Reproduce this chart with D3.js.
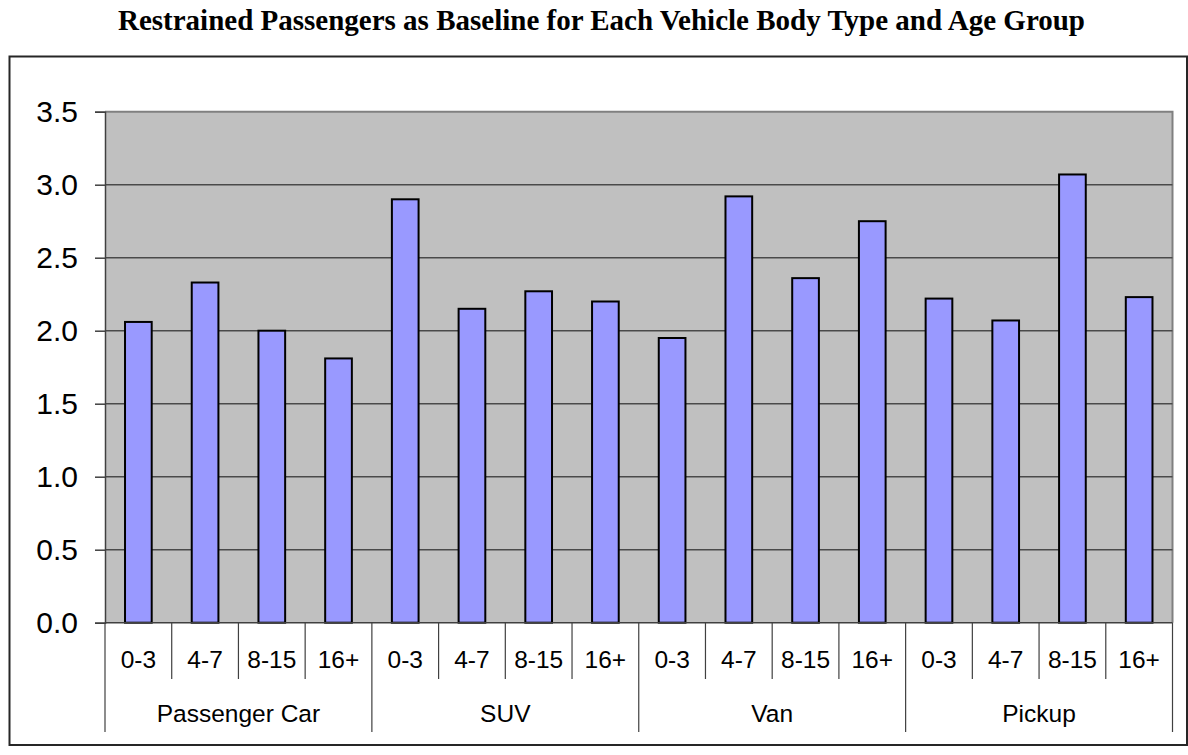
<!DOCTYPE html>
<html>
<head>
<meta charset="utf-8">
<script src="https://cdn.jsdelivr.net/npm/d3@7"></script>
<style>
  html, body { margin: 0; padding: 0; background: #ffffff; }
  svg { display: block; }
</style>
</head>
<body>
<svg id="chart" width="1188" height="755"></svg>
<script>
// ---- data ----
const title = "Restrained Passengers as Baseline for Each Vehicle Body Type and Age Group";
const groups = ["Passenger Car", "SUV", "Van", "Pickup"];
const ages = ["0-3", "4-7", "8-15", "16+"];
const passengerCar = [2.06, 2.33, 2.00, 1.81];
const suv = [2.90, 2.15, 2.27, 2.20];
const van = [1.95, 2.92, 2.36, 2.75];
const pickup = [2.22, 2.07, 3.07, 2.23];
const yTicks = [0, 0.5, 1.0, 1.5, 2.0, 2.5, 3.0, 3.5];

const seriesByGroup = [passengerCar, suv, van, pickup];
const rows = [];
groups.forEach((g, gi) => {
  ages.forEach((a, ai) => {
    rows.push({ key: g + "|" + a, group: g, age: a, value: seriesByGroup[gi][ai] });
  });
});

// ---- layout ----
const svg = d3.select("#chart");
const plot = { left: 105, right: 1172.5, top: 111.7, bottom: 622.7 };

// outer chart border
svg.append("rect")
  .attr("x", 9.5).attr("y", 56.5)
  .attr("width", 1177.5).attr("height", 688.5)
  .attr("fill", "#ffffff").attr("stroke", "#262626").attr("stroke-width", 2);

// title
svg.append("text")
  .attr("x", 601.5).attr("y", 29.5)
  .attr("text-anchor", "middle")
  .attr("font-family", "'Liberation Serif', 'Times New Roman', serif")
  .attr("font-weight", "bold")
  .attr("font-size", 29)
  .attr("fill", "#000")
  .text(title);

const x = d3.scaleBand()
  .domain(rows.map(d => d.key))
  .range([plot.left, plot.right])
  .paddingInner(0).paddingOuter(0);

const y = d3.scaleLinear()
  .domain([0, 3.5])
  .range([plot.bottom, plot.top]);

// plot background
svg.append("rect")
  .attr("x", plot.left).attr("y", y(3.5))
  .attr("width", plot.right - plot.left).attr("height", y(0) - y(3.5))
  .attr("fill", "#c0c0c0");

// plot border top/right (grey)
svg.append("path")
  .attr("d", `M${plot.left},${y(3.5)}H${plot.right}V${y(0)}`)
  .attr("fill", "none").attr("stroke", "#808080").attr("stroke-width", 2);

// gridlines
svg.append("g").selectAll("line")
  .data(yTicks.filter(t => t > 0 && t < 3.5))
  .join("line")
  .attr("x1", plot.left).attr("x2", plot.right)
  .attr("y1", d => y(d)).attr("y2", d => y(d))
  .attr("stroke", "#4a4a4a").attr("stroke-width", 1.5);

// bars
const barW = x.bandwidth() * 0.4;
svg.append("g").selectAll("rect")
  .data(rows)
  .join("rect")
  .attr("x", d => x(d.key) + (x.bandwidth() - barW) / 2)
  .attr("y", d => y(d.value))
  .attr("width", barW)
  .attr("height", d => y(0) - y(d.value))
  .attr("fill", "#9999ff")
  .attr("stroke", "#000")
  .attr("stroke-width", 2);

// y axis
const yAxis = d3.axisLeft(y)
  .tickValues(yTicks)
  .tickFormat(d3.format(".1f"))
  .tickSize(10)
  .tickPadding(17);
const ga = svg.append("g")
  .attr("transform", `translate(${plot.left},0)`)
  .call(yAxis);
ga.select(".domain").attr("stroke", "#404040").attr("stroke-width", 1.5);
ga.selectAll(".tick line").attr("stroke", "#404040").attr("stroke-width", 1.5);
ga.selectAll(".tick text")
  .attr("font-family", "'Liberation Sans', Arial, sans-serif")
  .attr("font-size", 30)
  .attr("fill", "#000");

// x axis baseline
svg.append("line")
  .attr("x1", plot.left).attr("x2", plot.right)
  .attr("y1", y(0)).attr("y2", y(0))
  .attr("stroke", "#404040").attr("stroke-width", 1.5);

// category separator ticks
const sepG = svg.append("g");
rows.forEach((d, i) => {
  const xi = x(d.key);
  const isGroupStart = i % ages.length === 0;
  sepG.append("line")
    .attr("x1", xi).attr("x2", xi)
    .attr("y1", y(0)).attr("y2", isGroupStart ? 732 : 679)
    .attr("stroke", "#404040").attr("stroke-width", 1.2);
});
sepG.append("line")
  .attr("x1", plot.right).attr("x2", plot.right)
  .attr("y1", y(0)).attr("y2", 732)
  .attr("stroke", "#404040").attr("stroke-width", 1.2);

// age labels
svg.append("g").selectAll("text")
  .data(rows)
  .join("text")
  .attr("x", d => x(d.key) + x.bandwidth() / 2)
  .attr("y", 668.3)
  .attr("text-anchor", "middle")
  .attr("font-family", "'Liberation Sans', Arial, sans-serif")
  .attr("font-size", 24.5)
  .attr("fill", "#000")
  .text(d => d.age);

// group labels
svg.append("g").selectAll("text")
  .data(groups)
  .join("text")
  .attr("x", g => {
    const first = x(g + "|" + ages[0]);
    const last = x(g + "|" + ages[ages.length - 1]) + x.bandwidth();
    return (first + last) / 2;
  })
  .attr("y", 721.7)
  .attr("text-anchor", "middle")
  .attr("font-family", "'Liberation Sans', Arial, sans-serif")
  .attr("font-size", 24.5)
  .attr("fill", "#000")
  .text(g => g);
</script>
</body>
</html>
